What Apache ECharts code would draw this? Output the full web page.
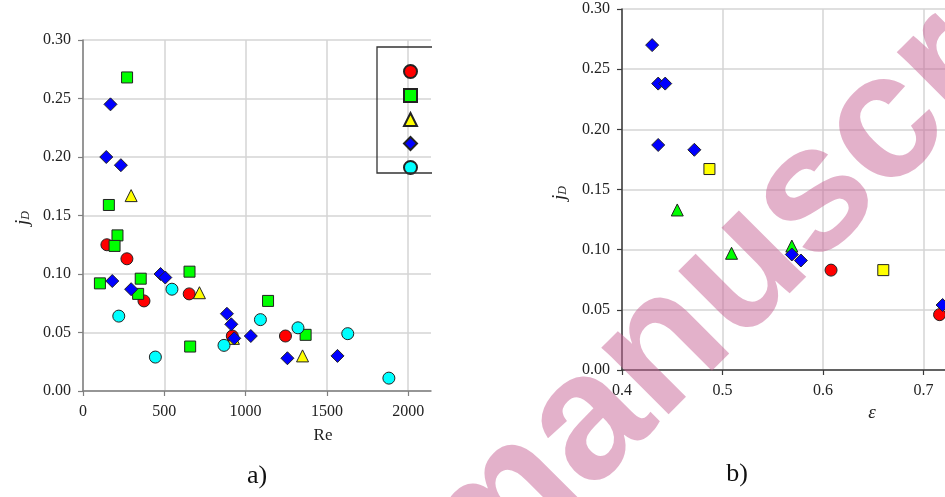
<!DOCTYPE html>
<html>
<head>
<meta charset="utf-8">
<script src="https://cdn.jsdelivr.net/npm/echarts@6/dist/echarts.min.js"></script>
<style>html,body{margin:0;padding:0;background:#fff}#c{width:945px;height:497px}</style>
</head>
<body>
<div id="c"></div>
<script>
// ---- Panel a: jD vs Re ----
const aRed    = [[147,0.125],[270,0.113],[375,0.077],[653,0.083],[918,0.047],[1245,0.047]];
const aGreen  = [[271,0.268],[159,0.159],[212,0.133],[194,0.124],[104,0.092],[355,0.096],[339,0.083],[655,0.102],[659,0.038],[1138,0.077],[1369,0.048]];
const aYellow = [[296,0.167],[716,0.084],[925,0.045],[1350,0.030]];
const aBlue   = [[169,0.245],[143,0.200],[233,0.193],[180,0.094],[296,0.087],[477,0.100],[506,0.097],[885,0.066],[912,0.057],[930,0.045],[1032,0.047],[1257,0.028],[1565,0.030]];
const aCyan   = [[220,0.064],[445,0.029],[547,0.087],[867,0.039],[1091,0.061],[1322,0.054],[1628,0.049],[1881,0.011]];
// ---- Panel b: jD vs porosity ----
const bRed    = [[0.608,0.083],[0.716,0.046]];
const bGreen  = [[0.455,0.133],[0.509,0.097],[0.569,0.103]];
const bYellow = [[0.487,0.167],[0.660,0.083]];
const bBlue   = [[0.430,0.270],[0.436,0.238],[0.443,0.238],[0.436,0.187],[0.472,0.183],[0.569,0.096],[0.578,0.091],[0.719,0.054]];

const SERIF = '"Liberation Serif","Times New Roman",serif';
const border = {borderColor:'#222', borderWidth:1};

function sc(name, data, xi, symbol, size, color){
  return {name, type:'scatter', xAxisIndex:xi, yAxisIndex:xi, data, symbol, symbolSize:size,
    itemStyle:Object.assign({color, opacity:1}, border), emphasis:{disabled:true}};
}

function yAx(gi, axisColor){
  return {type:'value', gridIndex:gi, min:0, max:0.3, interval:0.05,
    axisLine:{show:true, lineStyle:{color:axisColor, width:1.5}},
    axisTick:{show:true, length:5, lineStyle:{color:axisColor, width:1.2}},
    axisLabel:{fontFamily:SERIF, fontSize:16, color:'#222', margin:12, formatter:v=>v.toFixed(2)},
    splitLine:{show:true, lineStyle:{color:'#d4d4d4', width:1.5}}};
}
function xAx(gi, min, max, interval, dec, axisColor){
  return {type:'value', gridIndex:gi, min, max, interval,
    axisLine:{show:true, onZero:false, lineStyle:{color:axisColor, width:1.5}},
    axisTick:{show:true, length:5, lineStyle:{color:axisColor, width:1.2}},
    axisLabel:{fontFamily:SERIF, fontSize:16, color:'#222', margin:13, showMaxLabel:false,
      formatter:v=>v.toFixed(dec)},
    splitLine:{show:true, showMaxLine:false, lineStyle:{color:'#d4d4d4', width:1.5}}};
}

const chart = echarts.init(document.getElementById('c'), null, {renderer:'canvas'});
const jdRich = {
  j:{fontFamily:SERIF, fontSize:19, fontStyle:'italic', fill:'#222', verticalAlign:'bottom', lineHeight:20},
  d:{fontFamily:SERIF, fontSize:12, fontStyle:'italic', fill:'#222', verticalAlign:'bottom', lineHeight:14}
};
chart.setOption({
  animation:false,
  backgroundColor:'#fff',
  grid:[
    {left:83, top:40, width:348, height:351},
    {left:622, top:9, width:323, height:361}
  ],
  xAxis:[ xAx(0, 0, 2140, 500, 0, '#7f7f7f'), xAx(1, 0.4, 0.7214, 0.1, 1, '#3a3a3a') ],
  yAxis:[ yAx(0, '#7f7f7f'), yAx(1, '#3a3a3a') ],
  legend:{
    data:['S1','S2','S3','S4','S5'], orient:'vertical', left:398, top:59,
    itemWidth:13, itemHeight:13, itemGap:9, formatter:()=>'', selectedMode:false,
    textStyle:{fontSize:1}
  },
  series:[
    sc('S1', aRed, 0, 'circle', 12, '#ff0000'),
    sc('S2', aGreen, 0, 'rect', 11, '#00ff00'),
    sc('S3', aYellow, 0, 'triangle', 12, '#ffff00'),
    sc('S4', aBlue, 0, 'diamond', 13, '#0000ff'),
    sc('S5', aCyan, 0, 'circle', 12, '#00ffff'),
    sc('b1', bRed, 1, 'circle', 12, '#ff0000'),
    sc('b2', bGreen, 1, 'triangle', 12, '#00ff00'),
    sc('b3', bYellow, 1, 'rect', 11, '#ffff00'),
    sc('b4', bBlue, 1, 'diamond', 13, '#0000ff')
  ],
  graphic:[
    {type:'polyline', z:50, shape:{points:[[432,47],[377,47],[377,173],[432,173]]},
      style:{stroke:'#333', lineWidth:1.3, fill:null}},
    {type:'text', z:50, x:22, y:218, rotation:Math.PI/2,
      style:{text:'{j|j}{d|D}', rich:jdRich, align:'center', verticalAlign:'middle'}},
    {type:'text', z:50, x:559, y:193, rotation:Math.PI/2,
      style:{text:'{j|j}{d|D}', rich:jdRich, align:'center', verticalAlign:'middle'}},
    {type:'text', z:50, x:323, y:436,
      style:{text:'Re', font:'17px '+SERIF, fill:'#222', align:'center', verticalAlign:'middle'}},
    {type:'text', z:50, x:872, y:413,
      style:{text:'ε', font:'italic 19px '+SERIF, fill:'#222', align:'center', verticalAlign:'middle'}},
    {type:'text', z:50, x:257, y:476,
      style:{text:'a)', font:'26px '+SERIF, fill:'#111', align:'center', verticalAlign:'middle'}},
    {type:'text', z:50, x:737, y:474,
      style:{text:'b)', font:'26px '+SERIF, fill:'#111', align:'center', verticalAlign:'middle'}},
    {type:'text', z:200, x:442, y:571, rotation:Math.PI/4, silent:true,
      style:{text:'manuscript', font:'bold 179px "Liberation Sans",Arial,sans-serif',
        fill:'rgba(200,100,150,0.5)', align:'left', verticalAlign:'middle'}}
  ]
});
</script>
</body>
</html>
